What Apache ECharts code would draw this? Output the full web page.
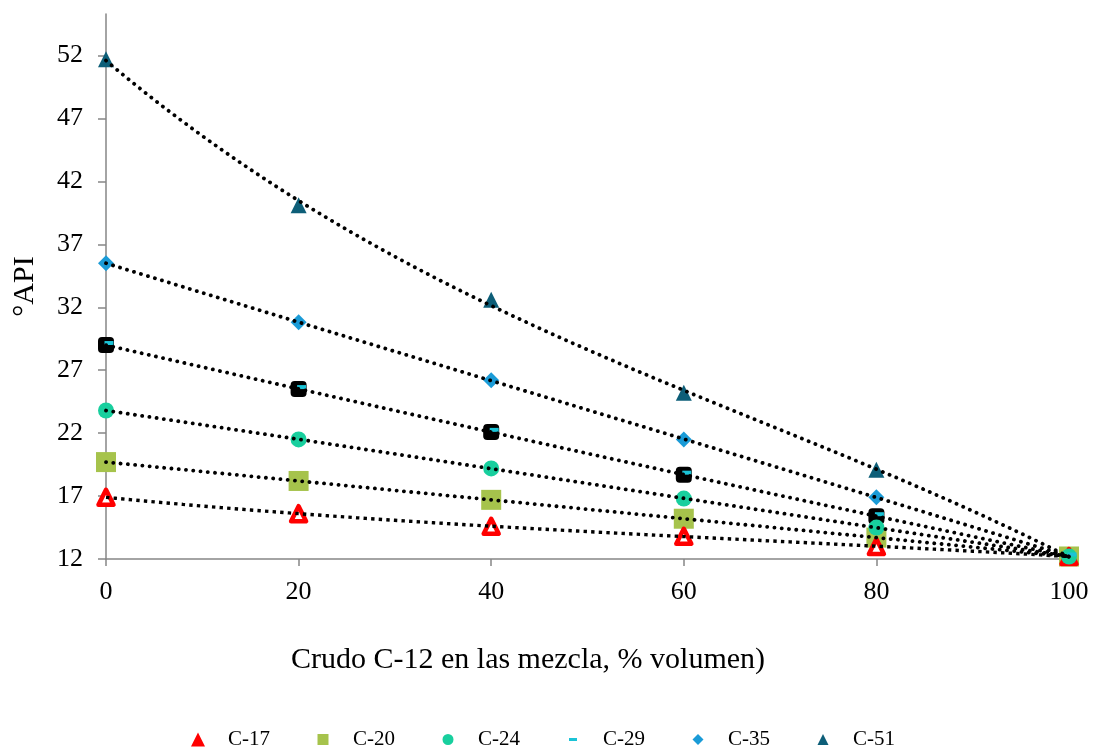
<!DOCTYPE html>
<html>
<head>
<meta charset="utf-8">
<script src="https://cdn.jsdelivr.net/npm/echarts@6/dist/echarts.min.js"></script>
<style>
  html, body { margin: 0; padding: 0; background: #fff; }
  #chart { width: 1093px; height: 748px; }
</style>
</head>
<body>
<div id="chart"></div>
<script>
// Porcentaje de crudo C-12 en cada mezcla
const xValues = [0, 20, 40, 60, 80, 100];
// °API medido para cada mezcla
const c17 = [16.9, 15.6, 14.6, 13.8, 13.0, 12.2];
const c20 = [19.7, 18.2, 16.7, 15.2, 13.7, 12.2];
const c24 = [23.8, 21.5, 19.2, 16.8, 14.5, 12.2];
const c29 = [29.0, 25.5, 22.1, 18.7, 15.4, 12.2];
const c35 = [35.5, 30.8, 26.2, 21.5, 16.9, 12.2];
const c51 = [51.7, 40.1, 32.6, 25.2, 19.1, 12.2];
const seriesNames = ['C-17', 'C-20', 'C-24', 'C-29', 'C-35', 'C-51'];
const yTicks = [12, 17, 22, 27, 32, 37, 42, 47, 52];

const FONT = '"Liberation Serif", "Times New Roman", serif';
const TREND_DEGREE = 3;

// Ajuste polinómico por mínimos cuadrados (ecuaciones normales + Gauss)
function polyFit(xs, ys, deg) {
  const n = deg + 1;
  const A = [];
  for (let r = 0; r < n; r++) {
    const row = [];
    for (let c = 0; c < n; c++) {
      let s = 0;
      for (let i = 0; i < xs.length; i++) s += Math.pow(xs[i], r + c);
      row.push(s);
    }
    let t = 0;
    for (let i = 0; i < xs.length; i++) t += ys[i] * Math.pow(xs[i], r);
    row.push(t);
    A.push(row);
  }
  for (let i = 0; i < n; i++) {
    let p = i;
    for (let j = i + 1; j < n; j++) if (Math.abs(A[j][i]) > Math.abs(A[p][i])) p = j;
    [A[i], A[p]] = [A[p], A[i]];
    for (let j = i + 1; j < n; j++) {
      const f = A[j][i] / A[i][i];
      for (let k = i; k <= n; k++) A[j][k] -= f * A[i][k];
    }
  }
  const coef = new Array(n).fill(0);
  for (let i = n - 1; i >= 0; i--) {
    let v = A[i][n];
    for (let k = i + 1; k < n; k++) v -= A[i][k] * coef[k];
    coef[i] = v / A[i][i];
  }
  return coef;
}

function trendPoints(ys) {
  const c = polyFit(xValues, ys, TREND_DEGREE);
  const pts = [];
  for (let x = xValues[0]; x <= xValues[xValues.length - 1]; x += 1) {
    let y = 0;
    for (let k = c.length - 1; k >= 0; k--) y = y * x + c[k];
    pts.push([x, y]);
  }
  return pts;
}

function pairs(ys) { return xValues.map((x, i) => [x, ys[i]]); }

const dotted = { color: '#000', width: 3.8, type: [0.1, 7.2], cap: 'round' };

const chart = echarts.init(document.getElementById('chart'), null, { renderer: 'canvas' });

const scatterBase = { type: 'scatter', z: 2, symbolKeepAspect: true };

// Marcadores (el orden del arreglo fija qué símbolo queda encima)
const markerSeries = [
  Object.assign({}, scatterBase, {
    name: 'C-51', data: pairs(c51), symbol: 'triangle', symbolSize: 16,
    itemStyle: { color: '#0d5e78', opacity: 1 }
  }),
  Object.assign({}, scatterBase, {
    name: 'C-35', data: pairs(c35), symbol: 'diamond', symbolSize: 16,
    itemStyle: { color: '#1a9bd7', opacity: 1 }
  }),
  Object.assign({}, scatterBase, {
    name: 'C-29 marco', data: pairs(c29), symbol: 'roundRect', symbolSize: 16,
    itemStyle: { color: '#000000', opacity: 1 }, legendHoverLink: false
  }),
  Object.assign({}, scatterBase, {
    name: 'C-20', data: pairs(c20), symbol: 'rect', symbolSize: 20,
    itemStyle: { color: '#a6c34c', opacity: 1 }
  }),
  Object.assign({}, scatterBase, {
    name: 'C-17', data: pairs(c17), symbol: 'triangle', symbolSize: 15,
    itemStyle: { color: '#ffffff', borderColor: '#ff0000', borderWidth: 4.5, borderJoin: 'round', opacity: 1 }
  }),
  Object.assign({}, scatterBase, {
    name: 'C-24', data: pairs(c24), symbol: 'circle', symbolSize: 16,
    itemStyle: { color: '#18cf9e', opacity: 1 }
  }),
  Object.assign({}, scatterBase, {
    name: 'C-29', data: pairs(c29), symbol: 'rect', symbolSize: [9, 4], symbolKeepAspect: false,
    symbolOffset: [3, -2],
    itemStyle: { color: '#1bc3d6', opacity: 1 }
  })
];

// Líneas de tendencia polinómicas, dibujadas sobre los marcadores
const trendSeries = [c17, c20, c24, c29, c35, c51].map((ys, i) => ({
  type: 'line', name: 'Tendencia ' + seriesNames[i], data: trendPoints(ys),
  showSymbol: false, symbol: 'none', z: 4, silent: true,
  lineStyle: i === 0
    ? { color: '#000', width: 3.4, type: [3.4, 4.2], cap: 'butt' }
    : dotted
}));

const option = {
  backgroundColor: '#fff',
  animation: false,
  grid: { left: 106, right: 24, top: 14, bottom: 189 },
  xAxis: {
    type: 'value', min: 0, max: 100, interval: 20,
    axisLine: { lineStyle: { color: '#868686', width: 1.5 } },
    axisTick: { show: true, length: 7, lineStyle: { color: '#868686', width: 1.5 } },
    splitLine: { show: false },
    axisLabel: { color: '#000', fontFamily: FONT, fontSize: 26, margin: 20 }
  },
  yAxis: {
    type: 'value', min: 12, max: 55.3,
    name: '°API', nameLocation: 'middle', nameGap: 66,
    nameTextStyle: { color: '#000', fontFamily: FONT, fontSize: 30 },
    axisLine: { show: true, lineStyle: { color: '#868686', width: 1.5 } },
    axisTick: { show: true, length: 8, customValues: yTicks, lineStyle: { color: '#868686', width: 1.5 } },
    splitLine: { show: false },
    axisLabel: { color: '#000', fontFamily: FONT, fontSize: 26, margin: 23, customValues: yTicks }
  },
  legend: {
    left: 186, top: 724,
    itemWidth: 14, itemHeight: 14, itemGap: 46,
    formatter: name => '{s| }' + name,
    textStyle: { color: '#000', fontFamily: FONT, fontSize: 21, rich: { s: { width: 18 } } },
    data: [
      { name: 'C-17', icon: 'triangle', itemStyle: { color: '#ff0000', borderWidth: 0 } },
      { name: 'C-20', icon: 'path://M0,0M14,14M1.5,1.5h11v11h-11z' },
      { name: 'C-24', icon: 'path://M0,0M14,14M7,1.5a5.5,5.5 0 1,0 0.001,0z' },
      { name: 'C-29', icon: 'path://M0,0M14,14M3,5.5h8v3h-8z' },
      { name: 'C-35', icon: 'path://M0,0M14,14M7,1.5L12.5,7L7,12.5L1.5,7z' },
      { name: 'C-51', icon: 'path://M0,0M14,14M7,1.5L12.5,12.5H1.5z' }
    ]
  },
  graphic: [{
    type: 'text', x: 528, y: 660,
    style: {
      text: 'Crudo C-12 en las mezcla, % volumen)',
      font: '30px "Liberation Serif", "Times New Roman", serif',
      fill: '#000', align: 'center', verticalAlign: 'middle'
    }
  }],
  series: markerSeries.concat(trendSeries)
};

chart.setOption(option);
</script>
</body>
</html>
